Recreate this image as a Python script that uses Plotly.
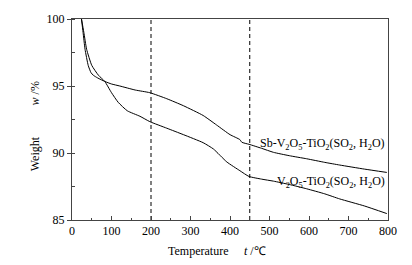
import plotly.graph_objects as go

# Data
t_sb = [24, 28, 33, 41, 48, 54, 65, 83, 100, 121, 160, 197, 240, 282, 332, 366, 400, 425, 430, 448, 480, 510, 550, 594, 640, 678, 740, 797]
w_sb = [100, 99.0, 97.74, 96.54, 96.0, 95.8, 95.6, 95.34, 95.15, 95.0, 94.7, 94.5, 94.05, 93.53, 92.8, 92.09, 91.37, 91.0, 90.8, 90.65, 90.35, 90.05, 89.8, 89.57, 89.3, 89.1, 88.8, 88.55]

t_v = [24, 30, 37, 50, 67, 83, 100, 117, 140, 172, 197, 240, 282, 332, 358, 392, 425, 448, 480, 510, 550, 594, 640, 678, 740, 797]
w_v = [100, 99.0, 97.74, 96.54, 95.8, 95.34, 94.5, 93.78, 93.15, 92.74, 92.34, 91.85, 91.37, 90.77, 90.3, 89.33, 88.68, 88.25, 88.05, 87.9, 87.65, 87.33, 86.95, 86.57, 86.05, 85.48]

dash_t = [200, 450]
x_ticks = [0, 100, 200, 300, 400, 500, 600, 700, 800]
y_ticks = [85, 90, 95, 100]

label_sb = "Sb-V<sub>2</sub>O<sub>5</sub>-TiO<sub>2</sub>(SO<sub>2</sub>, H<sub>2</sub>O)"
label_v = "V<sub>2</sub>O<sub>5</sub>-TiO<sub>2</sub>(SO<sub>2</sub>, H<sub>2</sub>O)"

FONT = "Liberation Serif"

W, H = 412, 265
L, R, T, B = 72, 24, 12, 45
pw, ph = W - L - R, H - T - B

def px_x(x):
    return (x - L) / pw

def px_y(y):
    return 1 - (y - T) / ph

fig = go.Figure()
fig.add_trace(go.Scatter(x=t_sb, y=w_sb, mode="lines", line=dict(color="black", width=1, shape="spline", smoothing=0.5), showlegend=False))
fig.add_trace(go.Scatter(x=t_v, y=w_v, mode="lines", line=dict(color="black", width=1, shape="spline", smoothing=0.5), showlegend=False))

for d in dash_t:
    fig.add_trace(go.Scatter(x=[d, d], y=[85, 100], mode="lines", line=dict(color="black", width=1, dash="4px,3px"), showlegend=False))

fig.add_annotation(x=797, y=90.65, xref="x", yref="y", text=label_sb, showarrow=False, xanchor="right", yanchor="middle", font=dict(family=FONT, size=12, color="black"))
fig.add_annotation(x=797, y=87.82, xref="x", yref="y", text=label_v, showarrow=False, xanchor="right", yanchor="middle", font=dict(family=FONT, size=12, color="black"))

# axis titles (two parts each, as in the reference)
title_font = dict(family=FONT, size=12, color="black")
fig.add_annotation(x=px_x(35), y=px_y(152), xref="paper", yref="paper", xanchor="center", yanchor="middle",
                   text="Weight", showarrow=False, textangle=-90, font=title_font)
fig.add_annotation(x=px_x(35), y=px_y(89), xref="paper", yref="paper", xanchor="center", yanchor="middle",
                   text="<i>w</i> /%", showarrow=False, textangle=-90, font=title_font)
fig.add_annotation(x=px_x(197.5), y=px_y(252), xref="paper", yref="paper", xanchor="center", yanchor="middle",
                   text="Temperature", showarrow=False, font=title_font)
fig.add_annotation(x=px_x(255), y=px_y(252), xref="paper", yref="paper", xanchor="center", yanchor="middle",
                   text="<i>t</i> /℃", showarrow=False, font=title_font)

fig.update_layout(
    width=W, height=H,
    margin=dict(l=L, r=R, t=T, b=B),
    paper_bgcolor="white", plot_bgcolor="white",
    font=dict(family=FONT, size=12, color="black"),
    xaxis=dict(range=[0, 800], tickvals=x_ticks, showgrid=False, zeroline=False,
               showline=True, linecolor="#444", linewidth=1, mirror=True,
               ticks="inside", ticklen=4, tickcolor="#444",
               minor=dict(dtick=50, ticks="inside", ticklen=2, tickcolor="#444"),
               tickfont=dict(family=FONT, size=12)),
    yaxis=dict(range=[85, 100], tickvals=y_ticks, showgrid=False, zeroline=False,
               showline=True, linecolor="#444", linewidth=1, mirror=True,
               ticks="outside", ticklen=4, tickcolor="#444",
               minor=dict(dtick=2.5, ticks="inside", ticklen=3, tickcolor="#444"),
               tickfont=dict(family=FONT, size=12)),
)

fig.write_html("out.html", config={"displayModeBar": False})

# remove default page margin so the figure sits at the window's top-left corner
with open("out.html", encoding="utf-8") as f:
    html = f.read()
html = html.replace("<head>", "<head><style>html,body{margin:0;padding:0;overflow:hidden}</style>", 1)
with open("out.html", "w", encoding="utf-8") as f:
    f.write(html)
